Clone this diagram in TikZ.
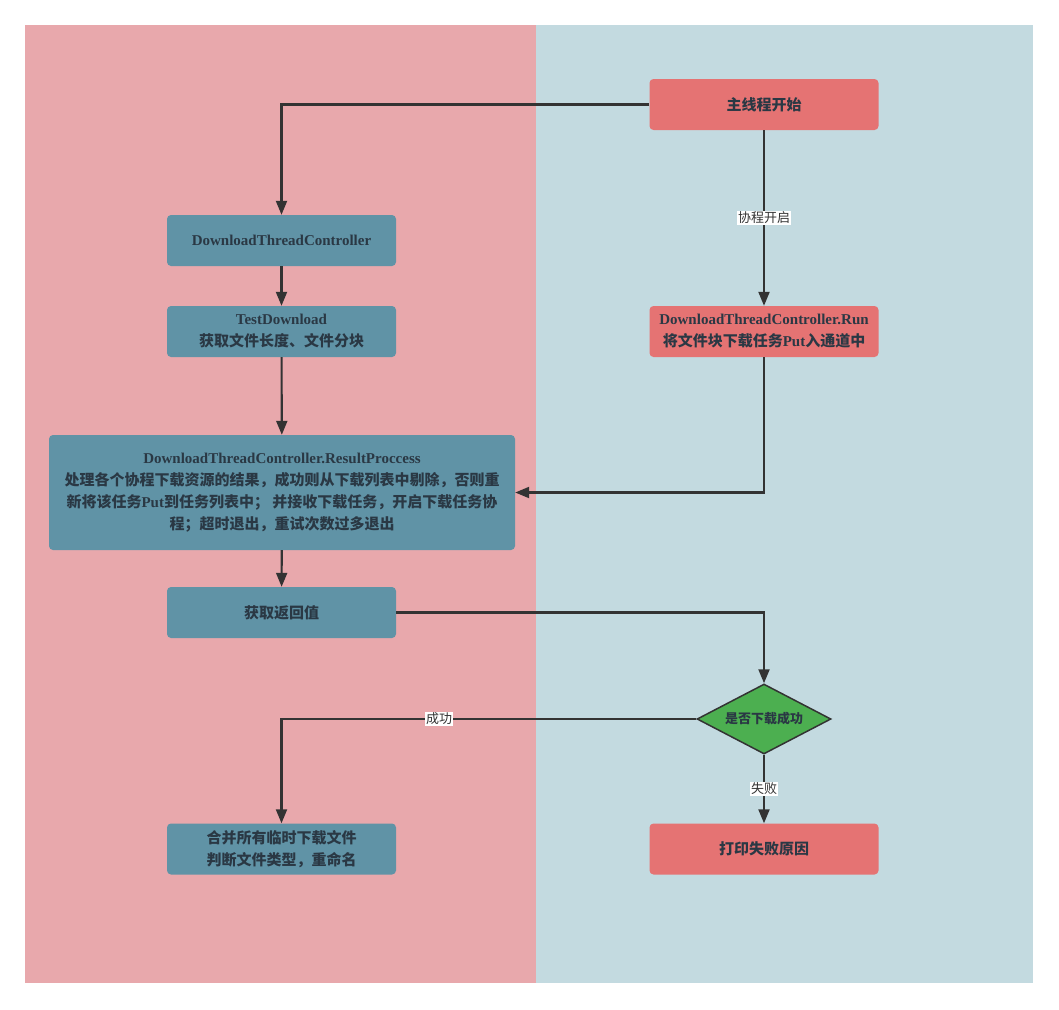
\documentclass[tikz,border=0pt]{standalone}
\usepackage{fontspec}
\setmainfont{Liberation Serif}
\newfontfamily\cjk{Noto Sans CJK SC}
\usetikzlibrary{arrows.meta, shapes.geometric}
\definecolor{lanepink}{RGB}{232,168,172}
\definecolor{laneblue}{RGB}{195,218,224}
\definecolor{mainred}{RGB}{229,115,115}
\definecolor{steelblue}{RGB}{96,147,166}
\definecolor{okgreen}{RGB}{76,175,80}
\definecolor{darktext}{RGB}{42,56,68}
\definecolor{linegray}{RGB}{51,51,51}
\newcommand{\zh}[1]{{\cjk #1}}
\tikzset{
  stepbox/.style={rounded corners=4pt, minimum width=229pt, minimum height=51pt, align=center, text=darktext, inner sep=0pt, font=\fontsize{15}{22}\selectfont\bfseries},
  bluebox/.style={stepbox, fill=steelblue},
  redbox/.style={stepbox, fill=mainred},
  flow/.style={draw=linegray, line width=2.1pt, -{Triangle[length=14pt,width=11pt]}},
  flowlabel/.style={fill=white, inner sep=1pt, text=linegray, font=\cjk\fontsize{13}{15}\selectfont}
}

\begin{document}
\begin{tikzpicture}[x=1pt, y=-1pt]
    \useasboundingbox (0,0) rectangle (1059,1009);
    \fill[lanepink] (25,25) rectangle (536,983);
    \fill[laneblue] (536,25) rectangle (1033,983);

    \node[redbox] (start) at (764,104.5) {\zh{主线程开始}};
    \node[bluebox] (dtc) at (281.5,240.5) {DownloadThreadController};
    \node[bluebox] (test) at (281.5,331.5) {TestDownload\\\zh{获取文件长度、文件分块}};
    \node[redbox] (run) at (764,331.5) {DownloadThreadController.Run\\\zh{将文件块下载任务}Put\zh{入通道中}};
    \node[bluebox, minimum width=466pt, minimum height=115pt] (result) at (282,492.5) {
        DownloadThreadController.ResultProccess\\
        \zh{处理各个协程下载资源的结果，成功则从下载列表中剔除，否则重}\\
        \zh{新将该任务}Put\zh{到任务列表中； 并接收下载任务，开启下载任务协}\\
        \zh{程；超时退出，重试次数过多退出}
    };
    \node[bluebox] (ret) at (281.5,612.5) {\zh{获取返回值}};
    \node[diamond, aspect=1.9, draw=linegray, line width=1.5pt, fill=okgreen, minimum width=134pt, minimum height=70pt, inner sep=0pt, text=darktext, font=\cjk\fontsize{13}{15}\selectfont\bfseries] (check) at (764,719) {是否下载成功};
    \node[bluebox] (merge) at (281.5,849) {\zh{合并所有临时下载文件}\\\zh{判断文件类型，重命名}};
    \node[redbox] (fail) at (764,849) {\zh{打印失败原因}};

    \draw[flow] (start.west) -| (dtc.north);
    \draw[flow] (start.south) -- node[flowlabel] {协程开启} (run.north);
    \draw[flow] (dtc) -- (test);
    \draw[flow] (test) -- (result);
    \draw[flow] (run.south) |- (result.east);
    \draw[flow] (result) -- (ret);
    \draw[flow] (ret.east) -| (check.north);
    \draw[flow] (check.west) -| node[flowlabel, pos=0.31] {成功} (merge.north);
    \draw[flow] (check.south) -- node[flowlabel] {失败} (fail.north);
\end{tikzpicture}
\end{document}
